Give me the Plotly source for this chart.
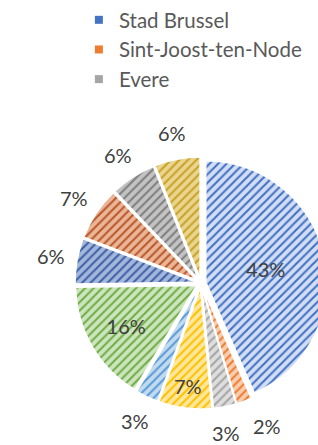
import math
import plotly.graph_objects as go

labels = ["Stad Brussel", "Sint-Joost-ten-Node", "Evere", "Gemeente 4", "Gemeente 5",
          "Gemeente 6", "Gemeente 7", "Gemeente 8", "Gemeente 9", "Gemeente 10"]
values = [43, 2, 3, 7, 3, 16, 6, 7, 6, 6]
legend_labels = ["Stad Brussel", "Sint-Joost-ten-Node", "Evere"]
inside = [True, False, False, True, False, True, False, False, False, False]

fg_colors = ["#4472C4", "#ED7D31", "#A5A5A5", "#FFC000", "#5B9BD5",
             "#70AD47", "#3F62A6", "#B8592A", "#7F7F7F", "#C9A227"]
bg_colors = ["#D2DEF3", "#F9CDAF", "#DEDEDE", "#FFE89D", "#C3DBF0",
             "#CDE5BE", "#A3B6DB", "#EBB598", "#C3C3C3", "#E9D58F"]
# small horizontal nudge for crowded outside labels (px)
label_xshift = [0, 14, -4, 0, 0, 0, 0, 0, 0, 0]

W, H = 340, 445
cx, cy, R = 201, 283, 126
PULL = 0.04
FONT = "Lato, Open Sans, sans-serif"

fig = go.Figure()
fig.add_trace(go.Pie(
    labels=labels, values=values, sort=False, direction="clockwise", rotation=0,
    showlegend=False,
    marker=dict(colors=bg_colors, line=dict(color="white", width=1.5),
                pattern=dict(shape="/", fgcolor=fg_colors, bgcolor=bg_colors,
                             size=6, solidity=0.35, fillmode="replace")),
    pull=[PULL] * len(values),
    texttemplate=["%{percent:.0%}" if i else "" for i in inside],
    textposition=["inside" if i else "none" for i in inside],
    textfont=dict(family=FONT, size=20, color="#404040"),
    insidetextorientation="horizontal",
    domain=dict(x=[(cx - R) / W, (cx + R) / W], y=[1 - (cy + R) / H, 1 - (cy - R) / H]),
))

# outside labels, positioned from the slice angles
total = sum(values)
r_pie = R / (1 + PULL)
cum = 0
for v, ins, xs in zip(values, inside, label_xshift):
    mid = (cum + v / 2) / total * 2 * math.pi
    cum += v
    if ins:
        continue
    d = r_pie * 1.26
    fig.add_annotation(
        x=(cx + d * math.sin(mid)) / W, y=1 - (cy - d * math.cos(mid)) / H,
        xref="paper", yref="paper", showarrow=False, xshift=xs,
        xanchor="center", yanchor="middle",
        text=f"{round(100 * v / total)}%",
        font=dict(family=FONT, size=20, color="#404040"))

for name, col in zip(legend_labels, fg_colors[:3]):
    fig.add_trace(go.Scatter(x=[None], y=[None], mode="markers", name=name,
                             marker=dict(symbol="square", size=8, color=col)))

fig.update_layout(
    width=W, height=H, margin=dict(l=0, r=0, t=0, b=0, autoexpand=False),
    paper_bgcolor="white", plot_bgcolor="white",
    xaxis=dict(visible=False), yaxis=dict(visible=False),
    legend=dict(x=0.232, y=1.0, xref="container", yref="container",
                xanchor="left", yanchor="top",
                font=dict(family=FONT, size=20.5, color="#595959"),
                itemwidth=30, tracegroupgap=0, bgcolor="rgba(0,0,0,0)"),
)
fig.write_html("out.html", config={"displayModeBar": False}, post_script=(
    "document.documentElement.style.overflow='hidden';"
    "document.body.style.overflow='hidden';"
    "document.body.style.margin='0';"))
